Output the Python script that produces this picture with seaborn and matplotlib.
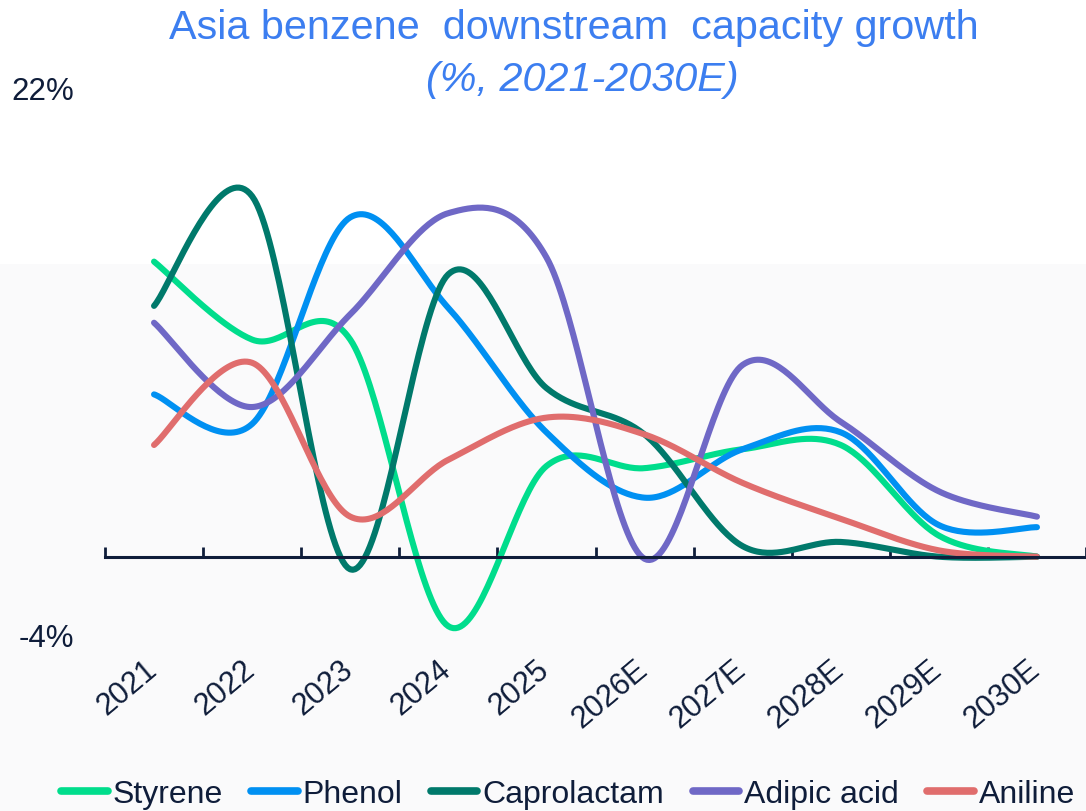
import numpy as np
import pandas as pd
import matplotlib
matplotlib.use("Agg")
import matplotlib.pyplot as plt
import matplotlib.transforms as mtransforms
from matplotlib.lines import Line2D
import seaborn as sns

# ---------------- data ----------------
years = ["2021", "2022", "2023", "2024", "2025", "2026E", "2027E", "2028E", "2029E", "2030E"]
styrene = [14.0, 10.3, 10.3, -3.3, 4.3, 4.2, 5.1, 5.3, 1.0, 0.0]
phenol = [7.7, 6.3, 16.1, 11.8, 5.9, 2.8, 5.1, 5.9, 1.5, 1.4]
caprolactam = [11.9, 17.1, -0.6, 13.4, 8.0, 5.8, 0.5, 0.7, 0.0, 0.0]
adipic_acid = [11.1, 7.1, 11.5, 16.3, 14.2, -0.1, 9.1, 6.4, 3.1, 1.9]
aniline = [5.3, 9.2, 1.9, 4.6, 6.6, 5.8, 3.5, 1.8, 0.3, 0.0]

series_names = ["Styrene", "Phenol", "Caprolactam", "Adipic acid", "Aniline"]
series_values = [styrene, phenol, caprolactam, adipic_acid, aniline]
colors = ["#00dd8c", "#0090f2", "#00796b", "#6f68c6", "#e06d6d"]

NAVY = "#0f1d3a"
TITLE_BLUE = "#3c7ef0"


def smooth(xs, ys, n=40):
    """Excel-style smoothed line (Catmull-Rom Bezier) used only for rendering."""
    P = np.column_stack([xs, ys]).astype(float)
    out = []
    m = len(P)
    for i in range(m - 1):
        p0 = P[i - 1] if i > 0 else P[i]
        p1 = P[i]
        p2 = P[i + 1]
        p3 = P[i + 2] if i + 2 < m else P[i + 1]
        c1 = p1 + (p2 - p0) / 6.0
        c2 = p2 - (p3 - p1) / 6.0
        t = np.linspace(0, 1, n, endpoint=(i == m - 2))[:, None]
        seg = ((1 - t) ** 3) * p1 + 3 * ((1 - t) ** 2) * t * c1 + 3 * (1 - t) * t ** 2 * c2 + t ** 3 * p2
        out.append(seg)
    return np.vstack(out)


rows = []
x_idx = np.arange(len(years))
for name, vals in zip(series_names, series_values):
    pts = smooth(x_idx, vals)
    for order, (xx, yy) in enumerate(pts):
        rows.append({"x": xx, "y": yy, "series": name, "order": order})
df = pd.DataFrame(rows)

# ---------------- figure ----------------
sns.set_theme(style="white")
plt.rcParams["font.family"] = ["Liberation Sans", "DejaVu Sans"]

W, H = 1086, 812
fig = plt.figure(figsize=(W / 100, H / 100), dpi=100)
fig.patch.set_facecolor("white")

# faint panel behind lower part
fig.patches.append(plt.Rectangle((0, 0), 1, (H - 265) / H, transform=fig.transFigure,
                                 facecolor="#fafafb", edgecolor="none", zorder=-10))

ax_left = 105 / W
ax_right = 1.0
y_top_px, y_bot_px = 94, 642
ax = fig.add_axes([ax_left, (H - y_bot_px) / H, ax_right - ax_left, (y_bot_px - y_top_px) / H])
ax.patch.set_alpha(0)

sns.lineplot(data=df, x="x", y="y", hue="series", hue_order=series_names,
             palette=colors, sort=False, estimator=None, units="series",
             linewidth=4.4, ax=ax, legend=False)
for ln in ax.lines:
    ln.set_solid_capstyle("round")

ax.set_xlim(-0.5, len(years) - 0.5)
ax.set_ylim(-4, 22)

for s in ["top", "right", "left"]:
    ax.spines[s].set_visible(False)
ax.spines["bottom"].set_position(("data", 0))
ax.spines["bottom"].set_color(NAVY)
ax.spines["bottom"].set_linewidth(2.2)

ax.set_xticks(x_idx)
ax.set_xticklabels(years)
ax.set_xticks(np.arange(len(years) + 1) - 0.5, minor=True)
ax.tick_params(axis="x", which="both", bottom=True)
ax.tick_params(axis="x", which="major", length=0, pad=78, labelsize=22, labelcolor=NAVY)
ax.tick_params(axis="x", which="minor", direction="in", length=7, width=2, color=NAVY)
for lab in ax.get_xticklabels():
    lab.set_rotation(40)
    lab.set_rotation_mode("anchor")
    lab.set_ha("right")
    lab.set_va("center")
    lab.set_transform(lab.get_transform() + mtransforms.ScaledTranslation(-1 / 100, 0, fig.dpi_scale_trans))

ax.set_yticks([-4, 22])
ax.set_yticklabels(["-4%", "22%"])
ax.tick_params(axis="y", length=0, pad=22, labelsize=22.5, labelcolor=NAVY)
for lab in ax.get_yticklabels():
    lab.set_transform(lab.get_transform() + mtransforms.ScaledTranslation(0, 6 / 100, fig.dpi_scale_trans))
ax.set_xlabel("")
ax.set_ylabel("")

# ---------------- title ----------------
fig.text(574 / W, 1 - 28 / H, "Asia benzene  downstream  capacity growth", ha="center", va="center",
         fontsize=29.8, color=TITLE_BLUE)
fig.text(582 / W, 1 - 80 / H, "(%, 2021-2030E)", ha="center", va="center",
         fontsize=29.8, color=TITLE_BLUE, style="italic")

# ---------------- legend ----------------
handles = [Line2D([0], [0], color=c, lw=5.5, solid_capstyle="round") for c in colors]
fig.legend(handles, series_names, loc="center", bbox_to_anchor=(568 / W, 1 - 795 / H), ncol=5,
           frameon=False, fontsize=23, handlelength=1.45, handletextpad=0.15, columnspacing=0.9,
           labelcolor=NAVY)

fig.savefig("out.png", dpi=100)
